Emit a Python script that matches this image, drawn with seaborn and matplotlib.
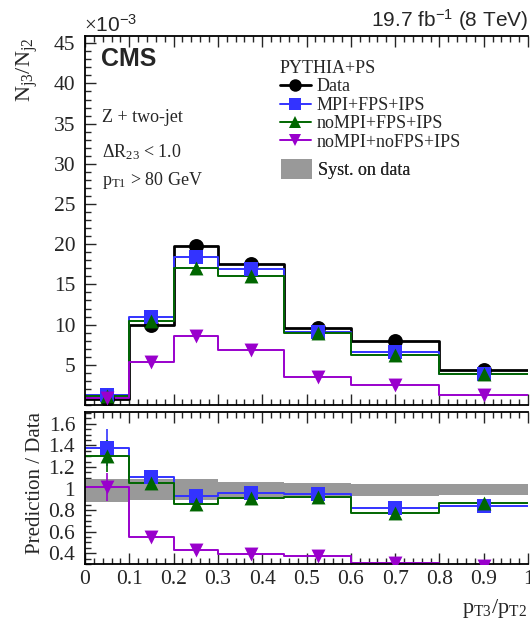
import numpy as np
import pandas as pd
import matplotlib
matplotlib.use("Agg")
import matplotlib.pyplot as plt
import seaborn as sns
from matplotlib.lines import Line2D
from matplotlib.patches import Patch
from matplotlib.ticker import MultipleLocator, FuncFormatter, FixedLocator

# ---------------- data ----------------
edges = [0.0, 0.1, 0.2, 0.3, 0.45, 0.6, 0.8, 1.0]
centers = [0.05, 0.15, 0.25, 0.375, 0.525, 0.7, 0.9]

# N_j3/N_j2 in units of 1e-3
data_vals = [0.8, 9.9, 19.8, 17.6, 9.6, 8.0, 4.4]
mpi_fps_ips = [1.2, 11.0, 18.4, 16.9, 9.1, 6.6, 3.8]
nompi_fps_ips = [1.1, 10.4, 17.1, 16.0, 8.9, 6.2, 3.8]
nompi_nofps_ips = [0.85, 5.4, 8.6, 6.8, 3.5, 2.5, 1.3]

# Prediction / Data
ratio_mpi = [1.38, 1.11, 0.93, 0.96, 0.945, 0.82, 0.84]
ratio_nompi = [1.30, 1.05, 0.86, 0.91, 0.925, 0.77, 0.87]
ratio_nofps = [1.01, 0.55, 0.43, 0.39, 0.37, 0.31, 0.28]
ratio_err_mpi = [0.17, 0.02, 0.01, 0.01, 0.01, 0.01, 0.02]
ratio_err_nompi = [0.15, 0.02, 0.01, 0.01, 0.01, 0.01, 0.02]
ratio_err_nofps = [0.13, 0.01, 0.01, 0.01, 0.01, 0.01, 0.01]
syst_lo = [0.875, 0.89, 0.89, 0.905, 0.915, 0.93, 0.94]
syst_hi = [1.09, 1.09, 1.085, 1.06, 1.05, 1.045, 1.04]

labels = ["Data", "MPI+FPS+IPS", "noMPI+FPS+IPS", "noMPI+noFPS+IPS"]
colors = ["#000000", "#3333ff", "#006600", "#9900cc"]
markers = ["o", "s", "^", "v"]

# ---------------- style ----------------
sns.set_style("ticks")
plt.rcParams["font.family"] = ["Liberation Serif", "DejaVu Serif"]
plt.rcParams["mathtext.fontset"] = "custom"
plt.rcParams["mathtext.rm"] = "Liberation Serif"
plt.rcParams["mathtext.it"] = "Liberation Serif:italic"
plt.rcParams["mathtext.bf"] = "Liberation Serif:bold"
plt.rcParams["axes.linewidth"] = 1.3
plt.rcParams["axes.edgecolor"] = "black"

W, H = 530, 625
fig = plt.figure(figsize=(W / 100, H / 100), dpi=100)


def fx(x):
    return x / W


def fy(y):
    return 1 - y / H


left, right = 85, 528
ax = fig.add_axes([fx(left), fy(405), fx(right - left), fy(36) - fy(405)])
axr = fig.add_axes([fx(left), fy(564), fx(right - left), fy(412) - fy(564)])


def ext(v):
    return list(v) + [v[-1]]


# ---------------- top panel ----------------
series = [data_vals, mpi_fps_ips, nompi_fps_ips, nompi_nofps_ips]
lws = [2.0, 1.4, 1.4, 1.4]
order = [1, 2, 3, 0]
for i in order:
    dfl = pd.DataFrame({"x": edges, "y": ext(series[i])})
    sns.lineplot(data=dfl, x="x", y="y", drawstyle="steps-post", color=colors[i],
                 lw=lws[i], ax=ax, estimator=None, sort=False, zorder=2 + i * 0.1)
sizes = [115, 95, 100, 100]
for i in order:
    dfm = pd.DataFrame({"x": centers, "y": series[i]})
    sns.scatterplot(data=dfm, x="x", y="y", marker=markers[i], s=sizes[i],
                    color=colors[i], edgecolor=colors[i], linewidth=0,
                    ax=ax, zorder=5 + i * 0.1)

ax.set_xlim(0, 1)
ax.set_ylim(0, 45.9)
ax.yaxis.set_major_locator(FixedLocator([5, 10, 15, 20, 25, 30, 35, 40, 45]))
ax.yaxis.set_minor_locator(MultipleLocator(1))
ax.xaxis.set_major_locator(MultipleLocator(0.1))
ax.xaxis.set_minor_locator(MultipleLocator(0.02))
ax.set_xticklabels([])
ax.set_xlabel("")
ax.set_ylabel("")

# ---------------- ratio panel ----------------
axr.fill_between(edges, ext(syst_lo), ext(syst_hi), step="post",
                 color="#999999", lw=0, zorder=1)
rseries = [ratio_mpi, ratio_nompi, ratio_nofps]
rerr = [ratio_err_mpi, ratio_err_nompi, ratio_err_nofps]
for j in range(3):
    i = j + 1
    dfl = pd.DataFrame({"x": edges, "y": ext(rseries[j])})
    sns.lineplot(data=dfl, x="x", y="y", drawstyle="steps-post", color=colors[i],
                 lw=1.4, ax=axr, estimator=None, sort=False, zorder=2 + j * 0.1)
    axr.errorbar(centers, rseries[j], yerr=rerr[j], fmt="none", ecolor=colors[i],
                 elinewidth=1.2, capsize=0, zorder=3 + j * 0.1)
for j in range(3):
    i = j + 1
    dfm = pd.DataFrame({"x": centers, "y": rseries[j]})
    sns.scatterplot(data=dfm, x="x", y="y", marker=markers[i], s=sizes[i],
                    color=colors[i], edgecolor=colors[i], linewidth=0,
                    ax=axr, zorder=5 + j * 0.1)

axr.set_xlim(0, 1)
axr.set_ylim(0.3, 1.71)
axr.yaxis.set_major_locator(FixedLocator([0.4, 0.6, 0.8, 1.0, 1.2, 1.4, 1.6]))
axr.yaxis.set_minor_locator(MultipleLocator(0.05))
axr.xaxis.set_major_locator(MultipleLocator(0.1))
axr.xaxis.set_minor_locator(MultipleLocator(0.02))
gfmt = FuncFormatter(lambda v, p: "%g" % round(v, 3))
axr.xaxis.set_major_formatter(gfmt)
axr.yaxis.set_major_formatter(gfmt)
axr.set_xlabel("")
axr.set_ylabel("")

for a in (ax, axr):
    a.spines["right"].set_visible(False)
    a.tick_params(which="both", direction="in", top=True, right=False,
                  labelsize=15.5, width=1.0)
    a.tick_params(which="major", length=8, pad=5)
    a.tick_params(which="minor", length=4)
    a.tick_params(axis="y", pad=7)
    a.set_facecolor("white")
axr.tick_params(axis="x", pad=4)

# ---------------- texts ----------------
fig.text(fx(84), fy(32), r"$\times$10$\mathregular{^{-3}}$", fontsize=15,
         family=["Liberation Sans", "DejaVu Sans"], ha="left", va="baseline")
fig.text(fx(101), fy(66), "CMS", fontsize=18, fontweight="bold",
         family=["Liberation Sans", "DejaVu Sans"], ha="left", va="baseline")
fig.text(fx(528), fy(27), r"19.7 fb$\mathregular{^{-1}}$ (8 TeV)", fontsize=15,
         family=["Liberation Sans", "DejaVu Sans"], ha="right", va="baseline")
fig.text(fx(27), fy(38), r"$\mathrm{N_{j3}/N_{j2}}$", fontsize=16, rotation=90,
         ha="center", va="top")
fig.text(fx(35), fy(412), "Prediction / Data", fontsize=15, rotation=90,
         ha="center", va="top")
fig.text(fx(462), fy(613), r"$\mathrm{p_{T3}/p_{T2}}$", fontsize=16,
         ha="left", va="baseline")

fig.text(fx(102), fy(122), "Z + two-jet", fontsize=13, ha="left", va="baseline")
fig.text(fx(102), fy(157), r"ΔR$_{\mathrm{23}}$ < 1.0", fontsize=13, ha="left",
         va="baseline")
fig.text(fx(102), fy(185), r"p$_{\mathrm{T1}}$ > 80 GeV", fontsize=13, ha="left",
         va="baseline")

# ---------------- legends ----------------
handles = [Line2D([], [], color=colors[i], marker=markers[i], lw=1.4 if i else 2.0,
                  ms=9, markeredgewidth=0) for i in range(4)]
leg1 = ax.legend(handles, labels, title="PYTHIA+PS", loc="upper left",
                 bbox_to_anchor=(fx(280), fy(60)), bbox_transform=fig.transFigure,
                 frameon=False, fontsize=13, title_fontsize=13, alignment="left",
                 handlelength=1.7, handletextpad=0.35, labelspacing=0.08,
                 borderpad=0, borderaxespad=0)
ax.add_artist(leg1)
leg2 = ax.legend([Patch(facecolor="#999999", edgecolor="none")], ["Syst. on data"],
                 loc="upper left", bbox_to_anchor=(fx(281), fy(159)),
                 bbox_transform=fig.transFigure, frameon=False, fontsize=13,
                 handlelength=1.7, handleheight=1.35, handletextpad=0.35,
                 borderpad=0, borderaxespad=0)
ax.add_artist(leg2)

fig.savefig("out.png", dpi=100)
